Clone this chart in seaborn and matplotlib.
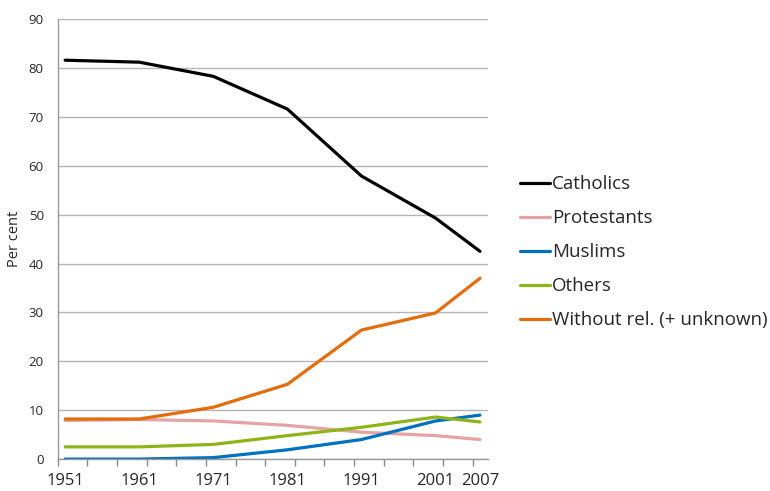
import pandas as pd
import seaborn as sns
import matplotlib.pyplot as plt

# Data
years = [1951, 1961, 1971, 1981, 1991, 2001, 2007]
catholics = [81.6, 81.2, 78.3, 71.6, 57.9, 49.3, 42.5]
protestants = [7.9, 8.1, 7.8, 6.9, 5.5, 4.8, 4.0]
muslims = [0.0, 0.0, 0.3, 1.9, 4.0, 7.8, 9.0]
others = [2.5, 2.5, 3.0, 4.8, 6.5, 8.6, 7.6]
without = [8.2, 8.2, 10.6, 15.3, 26.4, 29.9, 37.0]

names = ["Catholics", "Protestants", "Muslims", "Others", "Without rel. (+ unknown)"]
colors = ["#000000", "#E6A3A3", "#0070C0", "#8DB518", "#E46C0A"]

rows = []
for name, vals in zip(names, [catholics, protestants, muslims, others, without]):
    for y, v in zip(years, vals):
        rows.append({"Year": y, "Value": v, "Group": name})
df = pd.DataFrame(rows)

sns.set_theme(style="white")
plt.rcParams['font.family'] = ['Open Sans', 'DejaVu Sans']

fig = plt.figure(figsize=(7.7, 4.91), dpi=100)
ax = fig.add_axes([0.075, 0.065, 0.559, 0.896])

sns.lineplot(data=df, x="Year", y="Value", hue="Group", hue_order=names,
             palette=colors, linewidth=2.3, ax=ax)

ax.set_xlim(1950.3, 2008.1)
ax.set_ylim(0, 90)
ax.set_yticks(range(0, 91, 10))
ax.set_xticks(years)
ax.set_xticks(range(1950, 2008, 4), minor=True)
ax.tick_params(axis='x', which='major', length=0, pad=10, labelsize=12)
ax.tick_params(axis='x', which='minor', length=5, color='#888888', direction='out', bottom=True)
ax.tick_params(axis='y', length=0, labelsize=9.5, pad=10)
ax.yaxis.grid(True, color='#B5B5B5', linewidth=1)
ax.set_axisbelow(True)
for s in ['top', 'right']:
    ax.spines[s].set_visible(False)
for s in ['left', 'bottom']:
    ax.spines[s].set_color('#999999')
    ax.spines[s].set_linewidth(1)

ax.set_xlabel("")
ax.set_ylabel("Per cent", fontsize=10.5, labelpad=5)

leg = ax.legend(loc='center left', bbox_to_anchor=(1.035, 0.47), frameon=False,
                fontsize=13.5, handlelength=1.6, handletextpad=0.1, labelspacing=0.85)
for line in leg.get_lines():
    line.set_linewidth(2.3)

plt.savefig('out.png')
